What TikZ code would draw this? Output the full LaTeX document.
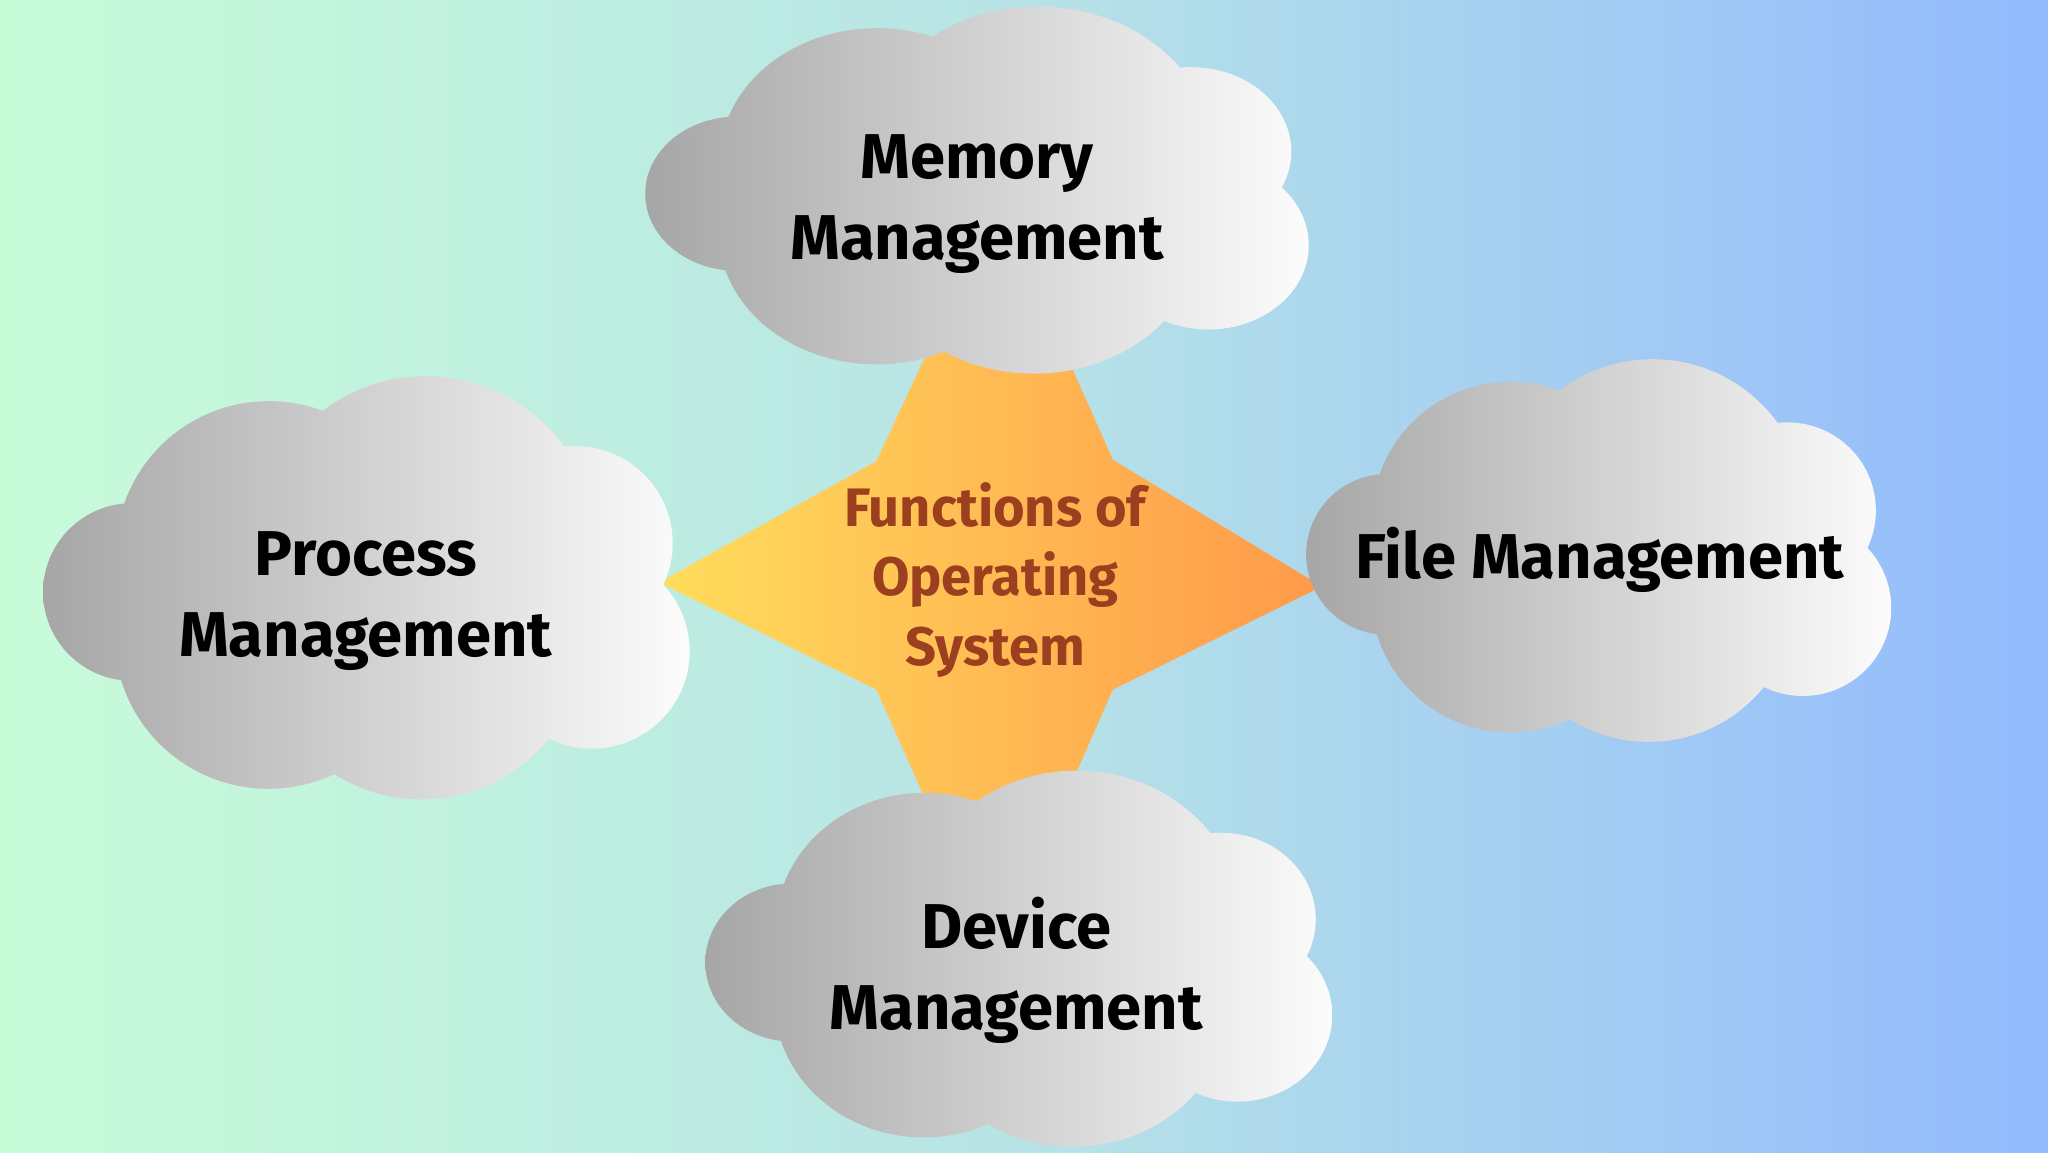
\documentclass[tikz,border=0pt]{standalone}
\usepackage{fontspec}
\setmainfont{Fira Sans}
\usepackage{tikz}
\usetikzlibrary{positioning}
\definecolor{bgleft}{HTML}{C8FCD9}
\definecolor{bgmid}{HTML}{B7E3E6}
\definecolor{bgright}{HTML}{93BAFD}
\definecolor{starleft}{HTML}{FFDD5C}
\definecolor{starright}{HTML}{FF994A}
\definecolor{cloudleft}{HTML}{A6A6A6}
\definecolor{cloudright}{HTML}{FCFCFC}
\definecolor{ostext}{HTML}{9C3F1E}
\tikzset{
	oscloud/.pic={
		\shade[left color=cloudleft,right color=cloudright]
			(-0.55,-0.01) circle (0.21)
			(-0.229,0.081) circle (0.36)
			(0.14,0.10) circle (0.40)
			(0.49,0.105) circle (0.23)
			(0.53,-0.15) circle (0.23)
			(0.13,-0.117) circle (0.383)
			(-0.23,-0.113) circle (0.362)
			(0,0) ellipse (0.5 and 0.3);
	}
}

\begin{document}
\begin{tikzpicture}
	\useasboundingbox (0,0) rectangle (15.68,8.82);
	\shade[left color=bgleft,right color=bgright,middle color=bgmid] (0,0) rectangle (15.68,8.82);

	% star in the middle
	\shade[left color=starleft,right color=starright] (5.05,4.36) -- (6.71,5.29) -- (7.64,7.28) -- (8.52,5.30) -- (10.12,4.33) -- (8.52,3.54) -- (7.62,1.50) -- (6.71,3.54) -- cycle;

	\pic[xscale=3.342,yscale=2.81] at (7.48,7.365) {oscloud};
	\pic[xscale=3.257,yscale=3.24] at (2.805,4.32) {oscloud};
	\pic[xscale=2.947,yscale=2.93] at (12.24,4.605) {oscloud};
	\pic[xscale=3.158,yscale=2.88] at (7.80,1.48) {oscloud};

	\begin{scope}[every node/.style={align=center,font=\bfseries\fontsize{13.8}{17.6}\selectfont}]
		\node (mem) at (7.48,7.26) {Memory\\Management};
		\node (proc) at (2.80,4.22) {Process\\Management};
		\node (file) at (12.25,4.53) {File Management};
		\node (dev) at (7.78,1.39) {Device\\Management};
		\node[text=ostext,font=\bfseries\fontsize{11.8}{15.1}\selectfont] (osfun) at (7.62,4.38) {Functions of\\Operating\\System};
	\end{scope}
\end{tikzpicture}
\end{document}
